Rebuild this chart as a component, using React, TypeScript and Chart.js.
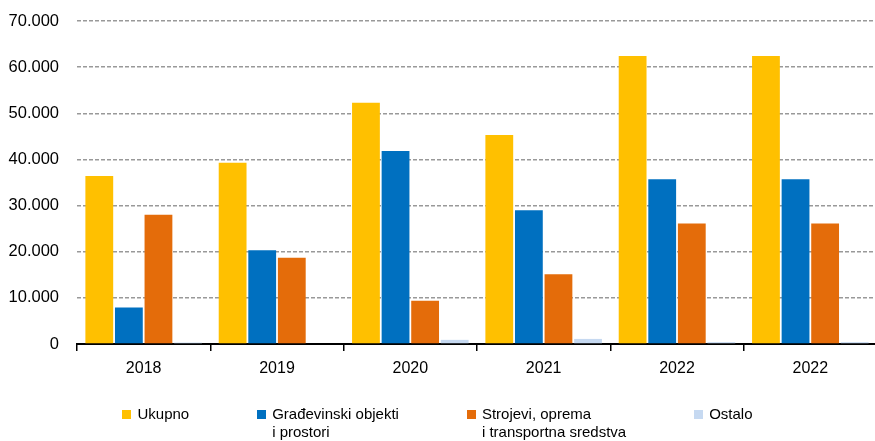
import React, { useEffect, useRef } from "react";
import { Chart, registerables } from "chart.js";

Chart.register(...registerables);

const categories = ["2018", "2019", "2020", "2021", "2022", "2022"];
const ukupno = [36400, 39300, 52300, 45300, 62400, 62400];
const gradjevinski = [7900, 20300, 41800, 29000, 35700, 35700];
const strojevi = [28000, 18700, 9400, 15100, 26100, 26100];
const ostalo = [300, 0, 900, 1100, 400, 400];

const seriesLabels: string[][] = [
  ["Ukupno"],
  ["Građevinski objekti", "i prostori"],
  ["Strojevi, oprema", "i transportna sredstva"],
  ["Ostalo"],
];
const seriesColors = ["#FFC000", "#0070C0", "#E46C0A", "#C6D9F1"];

const yMin = 0;
const yMax = 70000;
const yStep = 10000;

const FONT = "'Liberation Sans', Arial, sans-serif";

function fmt(v: number): string {
  return String(Math.round(v)).replace(/\B(?=(\d{3})+(?!\d))/g, ".");
}

export default function App() {
  const ref = useRef<HTMLCanvasElement | null>(null);

  useEffect(() => {
    document.body.style.margin = "0";
    if (!ref.current) return;
    const allSeries = [ukupno, gradjevinski, strojevi, ostalo];
    const chart = new Chart(ref.current, {
      type: "bar",
      data: {
        labels: categories,
        datasets: allSeries.map((d, i) => ({
          label: seriesLabels[i].join(" "),
          data: d,
          backgroundColor: seriesColors[i],
          borderWidth: 0,
          categoryPercentage: 0.8875,
          barPercentage: 0.94,
        })),
      },
      options: {
        responsive: false,
        animation: false,
        maintainAspectRatio: false,
        layout: { padding: { top: 21, right: 0, bottom: 0, left: 0 } },
        plugins: {
          legend: { display: false },
          tooltip: { enabled: false },
        },
        scales: {
          x: {
            grid: {
              offset: true,
              drawOnChartArea: false,
              drawTicks: true,
              tickLength: 7,
              color: "#000",
              lineWidth: 1.5,
            },
            border: { display: true, color: "#000", width: 2 },
            ticks: {
              color: "#000",
              font: { family: FONT, size: 16 },
              padding: 8,
            },
            afterFit: (scale: any) => {
              scale.height = 97;
            },
          },
          y: {
            min: yMin,
            max: yMax,
            grid: {
              color: "#999",
              lineWidth: 1.5,
              drawTicks: true,
              tickLength: 18,
              tickColor: "rgba(0,0,0,0)",
            },
            border: { display: false, dash: [4, 2] },
            ticks: {
              stepSize: yStep,
              color: "#000",
              font: { family: FONT, size: 16.5 },
              padding: 0,
              callback: (v: any) => fmt(Number(v)),
            },
            afterFit: (scale: any) => {
              scale.width = 77;
            },
          },
        },
      },
    });
    return () => chart.destroy();
  }, []);

  return (
    <div style={{ position: "relative", width: 875, height: 441, overflow: "hidden" }}>
      <canvas ref={ref} width={877} height={441} style={{ display: "block" }} />
      <div
        style={{
          position: "absolute",
          top: 405,
          left: 0,
          width: 875,
          display: "flex",
          justifyContent: "center",
          gap: 68,
          fontFamily: FONT,
          fontSize: 15,
          lineHeight: "18px",
          color: "#000",
        }}
      >
        {seriesLabels.map((lines, i) => (
          <div key={i} style={{ display: "flex", alignItems: "flex-start" }}>
            <span
              style={{
                width: 9,
                height: 9,
                background: seriesColors[i],
                marginTop: 5,
                marginRight: 6,
                flex: "none",
              }}
            />
            <div>
              {lines.map((l, j) => (
                <div key={j} style={{ whiteSpace: "nowrap" }}>{l}</div>
              ))}
            </div>
          </div>
        ))}
      </div>
    </div>
  );
}
